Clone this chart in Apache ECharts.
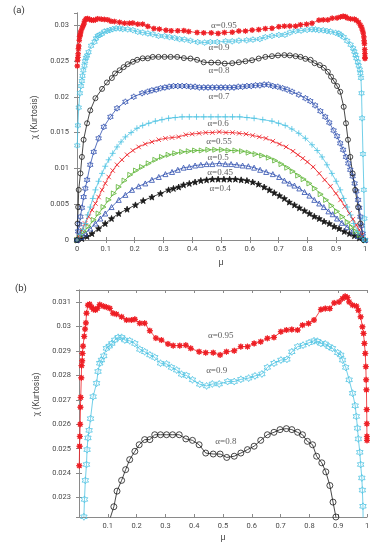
<!DOCTYPE html>
<html><head><meta charset="utf-8">
<script src="https://cdn.jsdelivr.net/npm/echarts@6/dist/echarts.min.js"></script>
<style>html,body{margin:0;padding:0;background:#fff}#c{width:376px;height:550px}</style>
</head><body><div id="c"></div>
<script>
// ---- data: alpha = 0.95 ----
const mu95 = [0.001,0.002,0.003,0.004,0.005,0.006,0.008,0.009,0.011,0.012,0.014,0.018,0.021,0.024,0.026,0.031,0.037,0.044,0.05,0.057,0.064,0.072,0.084,0.095,0.107,0.118,0.13,0.148,0.165,0.182,0.194,0.211,0.228,0.246,0.267,0.286,0.309,0.327,0.35,0.371,0.388,0.417,0.44,0.466,0.49,0.512,0.539,0.562,0.585,0.608,0.631,0.654,0.677,0.701,0.72,0.739,0.759,0.776,0.797,0.816,0.84,0.855,0.871,0.886,0.903,0.915,0.924,0.932,0.938,0.95,0.963,0.97,0.978,0.984,0.988,0.991,0.994,0.996,0.997,0.998,0.999,0.9995,0.9998,1.0];
const chi95 = [0.0243,0.0251,0.0255,0.026,0.0267,0.0271,0.0279,0.0284,0.0286,0.0289,0.0292,0.0296,0.0299,0.03015,0.03055,0.03088,0.03092,0.0308,0.03071,0.03068,0.03075,0.0309,0.03084,0.0308,0.03075,0.03055,0.03051,0.0304,0.03027,0.03027,0.0303,0.03014,0.03014,0.02983,0.02953,0.02945,0.02929,0.02922,0.02922,0.02924,0.02911,0.02897,0.02893,0.02893,0.02884,0.02897,0.02901,0.02918,0.02918,0.02931,0.02938,0.02952,0.02956,0.02979,0.02986,0.02988,0.02986,0.03006,0.03013,0.03027,0.0307,0.03074,0.03074,0.03097,0.03101,0.03115,0.03124,0.03119,0.03101,0.03088,0.03084,0.03067,0.0304,0.02999,0.02972,0.02931,0.0289,0.02836,0.02782,0.02741,0.0266,0.02602,0.0255,0.02534];
// ---- alpha = 0.9 ----
const mu90 = [0.001,0.003,0.006,0.01,0.014,0.017,0.019,0.022,0.026,0.028,0.031,0.035,0.04,0.049,0.061,0.066,0.072,0.078,0.086,0.095,0.105,0.114,0.124,0.136,0.148,0.159,0.176,0.194,0.211,0.228,0.246,0.263,0.283,0.304,0.321,0.339,0.356,0.373,0.394,0.419,0.443,0.463,0.487,0.516,0.539,0.562,0.589,0.611,0.635,0.654,0.677,0.701,0.722,0.739,0.759,0.778,0.799,0.816,0.828,0.84,0.855,0.868,0.88,0.898,0.909,0.915,0.926,0.938,0.95,0.959,0.963,0.967,0.97,0.975,0.978,0.982,0.984,0.986,0.988,0.99,0.993,0.996,0.998,1.0];
const chi90 = [0.0132,0.016,0.0185,0.0205,0.0215,0.02221,0.02292,0.0237,0.02435,0.02496,0.02544,0.02575,0.02623,0.02713,0.02768,0.02816,0.0285,0.02863,0.0288,0.02911,0.0292,0.02931,0.02945,0.02956,0.02956,0.02945,0.02942,0.02931,0.02907,0.02897,0.02884,0.02874,0.0285,0.02847,0.02833,0.02822,0.02805,0.028,0.02782,0.02764,0.02757,0.02765,0.02765,0.02775,0.02775,0.02784,0.02789,0.02798,0.02806,0.02833,0.0285,0.02863,0.02866,0.02897,0.02918,0.02924,0.02934,0.02942,0.0294,0.02931,0.02929,0.02918,0.02911,0.02893,0.02884,0.02863,0.02833,0.02782,0.02727,0.02676,0.02632,0.02584,0.0254,0.02485,0.02435,0.0238,0.0233,0.02264,0.0205,0.017,0.012,0.007,0.003,0];
// ---- alpha = 0.8 ----
const mu80 = [0,0.002,0.004,0.006,0.012,0.017,0.023,0.035,0.046,0.064,0.087,0.104,0.121,0.132,0.148,0.162,0.176,0.194,0.209,0.228,0.246,0.263,0.283,0.304,0.325,0.348,0.371,0.394,0.417,0.44,0.466,0.49,0.513,0.539,0.562,0.585,0.608,0.631,0.654,0.677,0.698,0.72,0.739,0.759,0.776,0.793,0.811,0.825,0.843,0.857,0.871,0.882,0.892,0.903,0.914,0.926,0.934,0.941,0.949,0.957,0.966,0.976,0.984,0.995];
const chi80 = [0,0.0023,0.0046,0.007,0.0093,0.0116,0.014,0.0163,0.0181,0.0198,0.0211,0.022,0.02262,0.02326,0.0237,0.02414,0.02455,0.02489,0.02516,0.02537,0.02537,0.02557,0.02557,0.02557,0.02557,0.02557,0.0254,0.02534,0.02516,0.02482,0.02478,0.02478,0.02464,0.02469,0.02482,0.02496,0.0251,0.02534,0.02557,0.02567,0.02578,0.02582,0.02578,0.02567,0.02557,0.0253,0.02516,0.02469,0.02442,0.02405,0.02349,0.02281,0.0222,0.0215,0.0207,0.0186,0.0163,0.014,0.0116,0.0093,0.007,0.0046,0.0023,0];
// ---- alpha = 0.7 ----
const mu70 = [0,0.004,0.008,0.012,0.017,0.023,0.029,0.035,0.046,0.058,0.075,0.093,0.116,0.139,0.168,0.197,0.226,0.245,0.26,0.275,0.29,0.305,0.32,0.335,0.35,0.365,0.38,0.395,0.41,0.425,0.44,0.455,0.47,0.485,0.5,0.515,0.53,0.545,0.56,0.575,0.59,0.605,0.62,0.635,0.65,0.665,0.68,0.697,0.714,0.73,0.747,0.77,0.793,0.81,0.827,0.845,0.862,0.876,0.891,0.903,0.914,0.924,0.934,0.942,0.949,0.957,0.964,0.97,0.976,0.98,0.984,0.988,0.992,1.0];
const chi70 = [0,0.0012,0.0022,0.00325,0.0045,0.006,0.0072,0.0084,0.0105,0.0123,0.0142,0.0158,0.0172,0.0184,0.0193,0.02,0.0205,0.0207,0.0209,0.021,0.0212,0.0213,0.0214,0.0215,0.0215,0.0215,0.0215,0.0214,0.0214,0.0213,0.0213,0.0213,0.0213,0.0213,0.0213,0.0213,0.0213,0.0213,0.0214,0.0214,0.0215,0.0215,0.0216,0.0216,0.0217,0.0217,0.0215,0.0214,0.0212,0.021,0.0207,0.0203,0.0198,0.0194,0.0188,0.018,0.0172,0.0164,0.0153,0.0145,0.0135,0.0126,0.0116,0.0107,0.0098,0.0089,0.0079,0.0068,0.0056,0.0045,0.00325,0.002,0.0009,0];
// ---- alpha = 0.6 ----
const mu60 = [0,0.01,0.02,0.029,0.037,0.046,0.055,0.064,0.075,0.087,0.098,0.11,0.124,0.139,0.153,0.168,0.188,0.208,0.228,0.249,0.272,0.295,0.318,0.341,0.365,0.39,0.415,0.44,0.465,0.49,0.515,0.54,0.565,0.59,0.615,0.645,0.677,0.7,0.723,0.746,0.77,0.793,0.816,0.834,0.851,0.868,0.885,0.9,0.914,0.926,0.938,0.95,0.961,0.975,0.99,1.0];
const chi60 = [0,0.0008,0.0015,0.0023,0.0035,0.0046,0.0058,0.007,0.0082,0.0093,0.0103,0.0112,0.0121,0.013,0.0137,0.0144,0.015,0.0156,0.016,0.0163,0.0166,0.0168,0.017,0.0171,0.0172,0.0172,0.0172,0.0172,0.0172,0.0172,0.0172,0.0172,0.0172,0.0171,0.017,0.0168,0.0166,0.0163,0.016,0.0155,0.0149,0.0142,0.0133,0.0125,0.0116,0.0105,0.0093,0.0082,0.007,0.0058,0.0046,0.0035,0.0023,0.0012,0.0003,0];
// ---- alpha = 0.55 ----
const mu55 = [0,0.008,0.017,0.028,0.04,0.052,0.064,0.075,0.087,0.098,0.11,0.124,0.139,0.156,0.174,0.194,0.214,0.237,0.26,0.284,0.307,0.33,0.353,0.378,0.4,0.424,0.447,0.47,0.494,0.517,0.54,0.563,0.587,0.61,0.633,0.656,0.68,0.703,0.726,0.75,0.767,0.784,0.8,0.82,0.841,0.86,0.88,0.899,0.915,0.93,0.946,0.958,0.97,0.98,0.99,1.0];
const chi55 = [0,0.0006,0.0014,0.0023,0.00325,0.0042,0.0051,0.006,0.007,0.0079,0.0088,0.0097,0.0105,0.0112,0.0119,0.0125,0.013,0.0134,0.0137,0.014,0.0142,0.0143,0.0144,0.0147,0.0148,0.0149,0.015,0.015,0.0151,0.015,0.015,0.0149,0.0148,0.0146,0.0144,0.0142,0.0138,0.0134,0.013,0.0124,0.0119,0.0114,0.0109,0.0102,0.0093,0.0084,0.0075,0.0065,0.0056,0.0047,0.0037,0.0029,0.0021,0.0014,0.0007,0];
// ---- alpha = 0.5 ----
const mu50 = [0,0.012,0.025,0.04,0.058,0.075,0.092,0.11,0.128,0.145,0.165,0.185,0.205,0.226,0.249,0.272,0.295,0.318,0.341,0.365,0.388,0.41,0.433,0.456,0.48,0.503,0.526,0.55,0.573,0.596,0.62,0.643,0.666,0.688,0.71,0.73,0.749,0.768,0.787,0.807,0.826,0.846,0.865,0.884,0.903,0.922,0.94,0.955,0.969,0.982,1.0];
const chi50 = [0,0.0005,0.0012,0.0019,0.0028,0.0037,0.0046,0.0056,0.0065,0.0074,0.0083,0.0091,0.0097,0.0102,0.0107,0.0112,0.0116,0.0119,0.0121,0.0123,0.0124,0.0125,0.0125,0.0126,0.0126,0.0126,0.0125,0.0125,0.0124,0.0122,0.012,0.0118,0.0115,0.0111,0.0106,0.0101,0.0096,0.009,0.0085,0.0079,0.0072,0.0064,0.0056,0.0048,0.004,0.00325,0.0025,0.0018,0.0012,0.0007,0];
// ---- alpha = 0.45 ----
const mu45 = [0,0.015,0.029,0.046,0.064,0.081,0.098,0.12,0.145,0.168,0.191,0.214,0.237,0.26,0.284,0.307,0.33,0.35,0.37,0.39,0.41,0.43,0.45,0.47,0.494,0.515,0.535,0.555,0.575,0.595,0.615,0.636,0.657,0.68,0.702,0.72,0.738,0.755,0.772,0.79,0.807,0.824,0.841,0.857,0.873,0.888,0.903,0.92,0.938,0.957,0.975,1.0];
const chi45 = [0,0.0004,0.0009,0.0016,0.0023,0.003,0.0037,0.0046,0.0056,0.0063,0.007,0.0075,0.0079,0.0084,0.0088,0.0092,0.0095,0.0098,0.0101,0.0102,0.0104,0.0105,0.0106,0.0106,0.0107,0.0106,0.0106,0.0105,0.0104,0.0103,0.0101,0.0098,0.0095,0.0092,0.0088,0.0083,0.0079,0.0076,0.0072,0.0067,0.0062,0.0056,0.0051,0.0046,0.004,0.0036,0.003,0.0024,0.0018,0.0012,0.0006,0];
// ---- alpha = 0.4 ----
const mu40 = [0,0.017,0.035,0.052,0.075,0.098,0.12,0.145,0.174,0.203,0.23,0.26,0.29,0.318,0.335,0.353,0.37,0.39,0.41,0.43,0.45,0.47,0.49,0.51,0.53,0.55,0.57,0.59,0.61,0.63,0.65,0.668,0.685,0.703,0.72,0.737,0.755,0.772,0.79,0.807,0.824,0.841,0.858,0.876,0.893,0.91,0.928,0.946,0.963,0.98,1.0];
const chi40 = [0,0.0002,0.0005,0.0009,0.0016,0.0023,0.003,0.0037,0.0043,0.0049,0.0055,0.006,0.0065,0.007,0.0072,0.0074,0.0077,0.0079,0.0081,0.0083,0.0084,0.0085,0.0085,0.0085,0.0085,0.0085,0.0084,0.0083,0.0081,0.0078,0.0074,0.007,0.0066,0.0062,0.0058,0.0053,0.0049,0.0045,0.0041,0.0037,0.0033,0.003,0.0026,0.0023,0.0019,0.0016,0.0012,0.0009,0.0006,0.0003,0];

// ---- curve annotations ----
const labelsA = ['α=0.95','α=0.9','α=0.8','α=0.7','α=0.6','α=0.55','α=0.5','α=0.45','α=0.4'];
const labelsAMu = [0.51,0.493,0.493,0.493,0.49,0.493,0.49,0.497,0.497];
const labelsAChi = [0.0300,0.0268,0.0237,0.0200,0.0163,0.01367,0.01144,0.00935,0.00712];
const labelsB = ['α=0.95','α=0.9','α=0.8'];
const labelsBMu = [0.492,0.478,0.51];
const labelsBChi = [0.02965,0.02818,0.02529];

const xTicks = [0,0.1,0.2,0.3,0.4,0.5,0.6,0.7,0.8,0.9,1];

const SYM = {
  ast: 'path://M0,-10 L2,-4.8 L7.1,-7.1 L4.8,-2 L10,0 L4.8,2 L7.1,7.1 L2,4.8 L0,10 L-2,4.8 L-7.1,7.1 L-4.8,2 L-10,0 L-4.8,-2 L-7.1,-7.1 L-2,-4.8 Z',
  hex: 'path://M0,-10 L2.89,-5 L8.66,-5 L5.77,0 L8.66,5 L2.89,5 L0,10 L-2.89,5 L-8.66,5 L-5.77,0 L-8.66,-5 L-2.89,-5 Z',
  plus: 'path://M-10,0 L10,0 M0,-10 L0,10',
  cross: 'path://M-10,-10 L10,10 M-10,10 L10,-10',
  tri: 'path://M-8,-10 L10,0 L-8,10 Z',
  up: 'path://M0,-10 L10,8 L-10,8 Z',
  star: 'path://M0,-10 L2.35,-3.24 L9.51,-3.09 L3.8,1.24 L5.88,8.09 L0,4 L-5.88,8.09 L-3.8,1.24 L-9.51,-3.09 L-2.35,-3.24 Z',
  circle: 'circle'
};
const RED='#ee1d23', CYAN='#4ec3e2', BLACK='#1a1a1a', BLUE='#2f4fae', GREEN='#5ab432';
const AX='#8a8a8a', TXT='#4a4a4a', FONT='Roboto';

function line(mu, chi, color, sym, size, filled, idx) {
  return {
    type:'line', xAxisIndex: idx, yAxisIndex: idx,
    data: mu.map((m,i)=>[m, chi[i]]),
    symbol: SYM[sym], symbolSize: size, showAllSymbol: true,
    lineStyle:{color: color, width: 0.8},
    itemStyle:{color: filled ? color : 'rgba(255,255,255,0)', borderColor: color, borderWidth: 0.8},
    animation:false, clip:true, silent:true
  };
}
function labels(texts, mus, chis, idx) {
  return {
    type:'scatter', xAxisIndex: idx, yAxisIndex: idx, symbolSize: 1,
    itemStyle:{color:'rgba(0,0,0,0)'}, silent:true, animation:false, z:10,
    data: texts.map((t,i)=>({value:[mus[i], chis[i]], name:t})),
    label:{show:true, position:'inside', formatter: p=>p.name, fontFamily:'Liberation Serif', fontSize:9, color:'#333'}
  };
}
function xAx(grid, pos, showLabel, hideMin) {
  return {
    type:'value', gridIndex:grid, position:pos, min:0, max:1, interval:0.1,
    axisLine:{lineStyle:{color:AX, width:1}},
    axisTick:{inside:true, length:3, lineStyle:{color:AX}},
    splitLine:{show:false},
    axisLabel:{show:showLabel, showMinLabel: !hideMin, color:TXT, fontSize:7.5, fontFamily:FONT, margin:5,
      formatter: v => String(+v.toFixed(1))},
    name: showLabel ? 'μ' : '', nameLocation:'middle', nameGap: grid===0 ? 18 : 16,
    nameTextStyle:{color:TXT, fontSize:9, fontFamily:FONT}
  };
}
function yAx(grid, pos, showLabel) {
  const base = {
    type:'value', gridIndex:grid, position:pos,
    axisLine:{lineStyle:{color:AX, width:1}},
    axisTick:{inside:true, length:3, lineStyle:{color:AX}},
    splitLine:{show:false},
    axisLabel:{show:showLabel, showMinLabel: grid===0, showMaxLabel:false, color:TXT, fontSize:7.5, fontFamily:FONT, margin:8,
      formatter: v => String(+v.toFixed(3))},
    name: showLabel ? 'χ (Kurtosis)' : '', nameLocation:'middle', nameGap: grid===0 ? 30 : 32,
    nameTextStyle:{color:TXT, fontSize:8.5, fontFamily:FONT, padding:[0,0,0,18]}
  };
  if (grid===0) { base.min = 0; base.max = 0.0317; base.interval = 0.005; }
  else { base.min = 0.0222; base.max = 0.0315; base.minInterval = 0.001; base.maxInterval = 0.001; base.splitNumber = 9; }
  return base;
}

const chart = echarts.init(document.getElementById('c'), null, {renderer:'canvas'});
chart.setOption({
  animation:false,
  backgroundColor:'#fff',
  title:[
    {text:'(a)', left:8, top:1, textStyle:{fontSize:9.5, fontWeight:'normal', color:'#333', fontFamily:FONT}},
    {text:'(b)', left:10, top:279, textStyle:{fontSize:9.5, fontWeight:'normal', color:'#333', fontFamily:FONT}}
  ],
  grid:[
    {left:77, right:11, top:13, height:227},
    {left:79, right:9, top:290, height:227}
  ],
  xAxis:[xAx(0,'bottom',true,false), xAx(0,'top',false,false), xAx(1,'bottom',true,true), xAx(1,'top',false,false)],
  yAxis:[yAx(0,'left',true), yAx(0,'right',false), yAx(1,'left',true), yAx(1,'right',false)],
  series:[
    line(mu40, chi40, BLACK, 'star', 6, true, 0),
    line(mu45, chi45, BLUE, 'up', 5, false, 0),
    line(mu50, chi50, GREEN, 'tri', 5, false, 0),
    line(mu55, chi55, RED, 'cross', 4.5, false, 0),
    line(mu60, chi60, CYAN, 'plus', 6, false, 0),
    line(mu70, chi70, BLUE, 'hex', [5.5,6], false, 0),
    line(mu80, chi80, BLACK, 'circle', 5, false, 0),
    line(mu90, chi90, CYAN, 'hex', [5.5,6], false, 0),
    line(mu95, chi95, RED, 'ast', 5.5, true, 0),
    labels(labelsA, labelsAMu, labelsAChi, 0),
    line(mu80, chi80, BLACK, 'circle', 6, false, 2),
    line(mu90, chi90, CYAN, 'hex', [6.5,7], false, 2),
    line(mu95, chi95, RED, 'ast', 6, true, 2),
    labels(labelsB, labelsBMu, labelsBChi, 2)
  ]
});
</script></body></html>
